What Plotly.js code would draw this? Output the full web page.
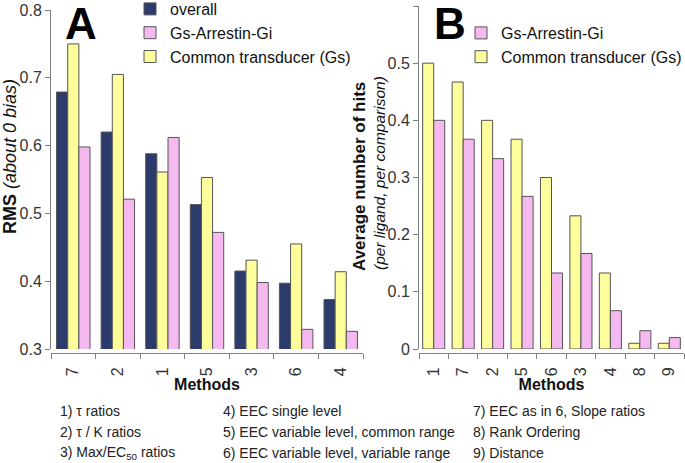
<!DOCTYPE html>
<html>
<head>
<meta charset="utf-8">
<script src="https://cdn.plot.ly/plotly-3.0.1.min.js"></script>
<style>html,body{margin:0;padding:0;background:#fff}#chart{width:685px;height:463px}</style>
</head>
<body>
<div id="chart"></div>
<script>
// Panel A data
const methodsA = ['7', '2', '1', '5', '3', '6', '4'];
const overallA = [0.679, 0.620, 0.588, 0.513, 0.415, 0.397, 0.373];
const commonA = [0.750, 0.705, 0.561, 0.553, 0.431, 0.455, 0.414];
const gsArrA = [0.598, 0.521, 0.612, 0.472, 0.398, 0.329, 0.326];
// Panel B data
const methodsB = ['1', '7', '2', '5', '6', '3', '4', '8', '9'];
const commonB = [0.500, 0.467, 0.400, 0.367, 0.300, 0.233, 0.133, 0.010, 0.010];
const gsArrB = [0.400, 0.367, 0.333, 0.267, 0.133, 0.167, 0.067, 0.032, 0.020];
// Method descriptions
const col1 = ['1) \u03c4 ratios', '2) \u03c4 / K ratios', '3) Max/EC<sub>50</sub> ratios'];
const col2 = ['4) EEC single level', '5) EEC variable level, common range', '6) EEC variable level, variable range'];
const col3 = ['7) EEC as in 6, Slope ratios', '8) Rank Ordering', '9) Distance'];

const W = 685, H = 463;
const px = v => v / W;
const py = v => 1 - v / H;

const NAVY = '#2c3a6c', PINK = '#f4b9ef', YELLOW = '#fdfd9c', EDGE = '#555555';
const FONT = 'Liberation Sans, Arial, sans-serif';

const traces = [
  {type: 'bar', x: methodsA, y: overallA, name: 'overall', xaxis: 'x', yaxis: 'y',
   marker: {color: NAVY, line: {color: EDGE, width: 1}}, legend: 'legend', legendrank: 1},
  {type: 'bar', x: methodsA, y: commonA, name: 'Common transducer (Gs)', xaxis: 'x', yaxis: 'y',
   marker: {color: YELLOW, line: {color: EDGE, width: 1}}, legend: 'legend', legendrank: 3},
  {type: 'bar', x: methodsA, y: gsArrA, name: 'Gs-Arrestin-Gi', xaxis: 'x', yaxis: 'y',
   marker: {color: PINK, line: {color: EDGE, width: 1}}, legend: 'legend', legendrank: 2},
  {type: 'bar', x: methodsB, y: commonB, name: 'Common transducer (Gs)', xaxis: 'x2', yaxis: 'y2',
   marker: {color: YELLOW, line: {color: EDGE, width: 1}}, legend: 'legend2', legendrank: 2},
  {type: 'bar', x: methodsB, y: gsArrB, name: 'Gs-Arrestin-Gi', xaxis: 'x2', yaxis: 'y2',
   marker: {color: PINK, line: {color: EDGE, width: 1}}, legend: 'legend2', legendrank: 1}
];

const axisCommon = {
  showgrid: false, zeroline: false, showline: true, linecolor: '#808080', linewidth: 1,
  ticks: 'outside', tickcolor: '#808080', ticklen: 5,
  tickfont: {family: FONT, size: 16, color: '#333'}
};

const annotations = [
  {text: '<b>A</b>', x: px(81), y: py(-3), xref: 'paper', yref: 'paper', showarrow: false,
   font: {family: FONT, size: 44, color: '#000'}, xanchor: 'center', yanchor: 'top'},
  {text: '<b>B</b>', x: px(450), y: py(-3), xref: 'paper', yref: 'paper', showarrow: false,
   font: {family: FONT, size: 44, color: '#000'}, xanchor: 'center', yanchor: 'top'},
  {text: '<b>RMS</b> <i>(about 0 bias)</i>', x: px(10), y: py(157), xref: 'paper', yref: 'paper',
   showarrow: false, textangle: -90, xanchor: 'center', yanchor: 'middle',
   font: {family: FONT, size: 18, color: '#111'}},
  {text: '<b>Average number of hits</b>', x: px(360), y: py(177), xref: 'paper', yref: 'paper',
   showarrow: false, textangle: -90, xanchor: 'center', yanchor: 'middle',
   font: {family: FONT, size: 17, color: '#111'}},
  {text: '<i>(per ligand, per comparison)</i>', x: px(379), y: py(173), xref: 'paper', yref: 'paper',
   showarrow: false, textangle: -90, xanchor: 'center', yanchor: 'middle',
   font: {family: FONT, size: 15.5, color: '#111'}}
];
const rowsY = [411, 432, 453];
[[col1, 58], [col2, 221], [col3, 471]].forEach(([col, x0]) => {
  col.forEach((t, i) => annotations.push({
    text: t, x: px(x0), y: py(rowsY[i]), xref: 'paper', yref: 'paper', showarrow: false,
    xanchor: 'left', yanchor: 'middle', font: {family: FONT, size: 14, color: '#222'}
  }));
});

const layout = {
  width: W, height: H,
  margin: {l: 0, r: 0, t: 0, b: 0, autoexpand: false},
  paper_bgcolor: '#fff', plot_bgcolor: '#fff',
  barmode: 'group', bargap: 0.25, bargroupgap: 0,
  font: {family: FONT, color: '#222'},
  xaxis: Object.assign({}, axisCommon, {
    domain: [px(51), px(363)], anchor: 'free', position: py(353),
    tickson: 'boundaries', tickangle: -90, type: 'category', ticklabelstandoff: 7,
    title: {text: '<b>Methods</b>', font: {family: FONT, size: 16, color: '#111'}, standoff: 2}
  }),
  yaxis: Object.assign({}, axisCommon, {
    domain: [py(349), py(10)], anchor: 'x', range: [0.3, 0.8], dtick: 0.1, tickformat: '.1f'
  }),
  xaxis2: Object.assign({}, axisCommon, {
    domain: [px(419), px(684)], anchor: 'free', position: py(353),
    tickson: 'boundaries', tickangle: -90, type: 'category', ticklabelstandoff: 7,
    title: {text: '<b>Methods</b>', font: {family: FONT, size: 16, color: '#111'}, standoff: 2}
  }),
  yaxis2: Object.assign({}, axisCommon, {
    domain: [py(349), py(6)], anchor: 'x2', range: [0, 0.6],
    tickvals: [0, 0.1, 0.2, 0.3, 0.4, 0.5, 0.6], ticktext: ['0', '0.1', '0.2', '0.3', '0.4', '0.5', '0.6']
  }),
  legend: {x: px(130), y: py(-8), xanchor: 'left', yanchor: 'top', bgcolor: 'rgba(0,0,0,0)',
    font: {family: FONT, size: 16, color: '#111'}, traceorder: 'normal', itemwidth: 30},
  legend2: {x: px(461), y: py(16), xanchor: 'left', yanchor: 'top', bgcolor: 'rgba(0,0,0,0)',
    font: {family: FONT, size: 16, color: '#111'}, traceorder: 'normal', itemwidth: 30},
  annotations: annotations
};

Plotly.newPlot('chart', traces, layout, {displayModeBar: false, staticPlot: true});
</script>
</body>
</html>
